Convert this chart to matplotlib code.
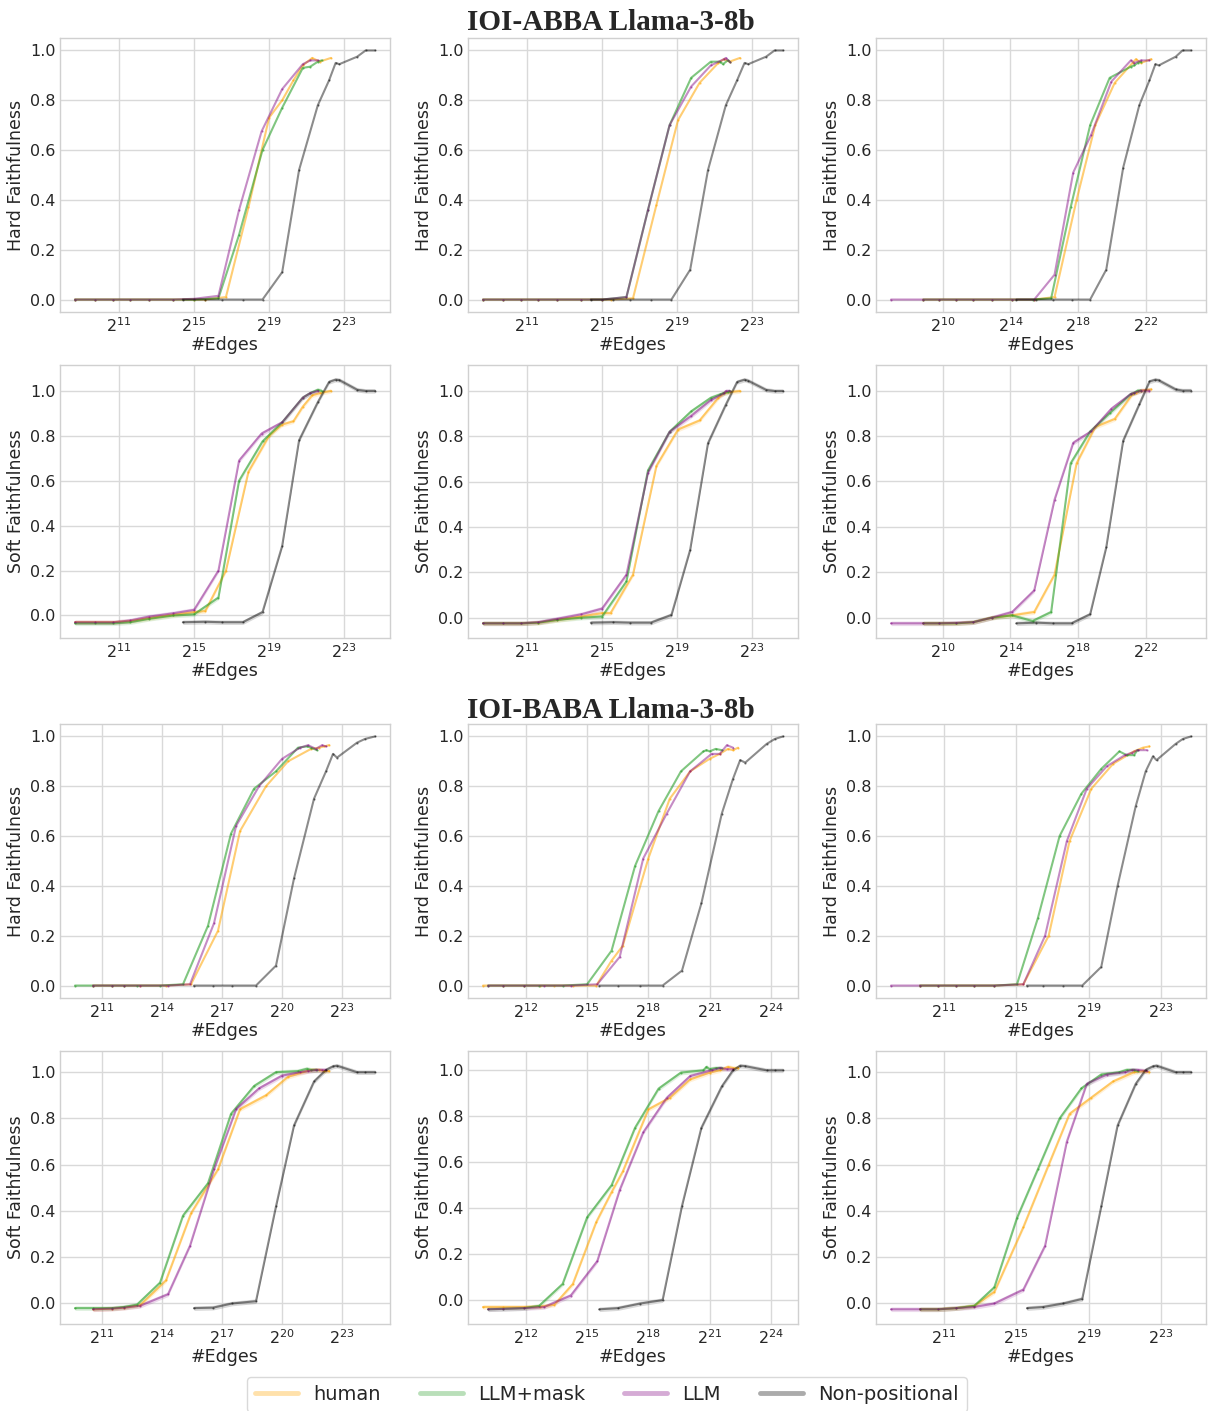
import numpy as np
import matplotlib
matplotlib.use('Agg')
import matplotlib.pyplot as plt
from matplotlib.lines import Line2D

# x values are log2(#edges)

# ---- IOI-ABBA, column 1
abba1_human_x = [8.65, 9.7, 10.7, 11.6, 12.6, 13.9, 15.0, 15.6, 16.7, 17.9, 19.0, 19.7, 20.3, 20.8, 21.3, 21.7, 22.3]
abba1_human_hard = [0, 0, 0, 0, 0, 0, 0, 0.0, 0.01, 0.37, 0.73, 0.80, 0.88, 0.94, 0.97, 0.955, 0.97]
abba1_human_soft = [-0.03, -0.03, -0.03, -0.025, -0.012, 0.003, 0.015, 0.02, 0.2, 0.64, 0.8, 0.85, 0.865, 0.93, 0.98, 0.99, 1.0]
abba1_mask_x = [8.65, 9.7, 10.7, 11.6, 12.6, 13.9, 15.0, 16.3, 17.4, 18.65, 19.7, 20.8, 21.2, 21.6, 21.8]
abba1_mask_hard = [0, 0, 0, 0, 0, 0, 0, 0.005, 0.26, 0.6, 0.77, 0.93, 0.935, 0.955, 0.96]
abba1_mask_soft = [-0.035, -0.035, -0.035, -0.03, -0.015, 0.0, 0.005, 0.08, 0.6, 0.775, 0.86, 0.97, 0.99, 1.005, 1.0]
abba1_llm_x = [8.65, 9.7, 10.7, 11.6, 12.6, 13.9, 15.0, 16.3, 17.4, 18.6, 19.7, 20.8, 21.2, 21.6]
abba1_llm_hard = [0, 0, 0, 0, 0, 0, 0.003, 0.015, 0.36, 0.675, 0.845, 0.945, 0.96, 0.96]
abba1_llm_soft = [-0.03, -0.03, -0.03, -0.022, -0.005, 0.01, 0.025, 0.2, 0.69, 0.81, 0.86, 0.97, 0.99, 1.0]
abba1_np_x = [14.4, 15.6, 16.5, 17.6, 18.65, 19.7, 20.6, 21.6, 22.2, 22.55, 22.75, 23.7, 24.15, 24.65]
abba1_np_hard = [0, 0, 0, 0, 0, 0.11, 0.52, 0.78, 0.88, 0.95, 0.945, 0.975, 1.0, 1.0]
abba1_np_soft = [-0.03, -0.028, -0.03, -0.03, 0.015, 0.31, 0.78, 0.95, 1.04, 1.05, 1.048, 1.005, 1.0, 1.0]

# ---- IOI-ABBA, column 2
abba2_human_x = [8.65, 9.7, 10.7, 11.6, 12.6, 13.9, 15.0, 15.45, 16.65, 17.9, 19.05, 20.2, 21.2, 21.5, 21.8, 22.35]
abba2_human_hard = [0, 0, 0, 0, 0, 0, 0, 0, 0.005, 0.38, 0.72, 0.87, 0.95, 0.965, 0.955, 0.97]
abba2_human_soft = [-0.025, -0.025, -0.025, -0.022, -0.01, 0.005, 0.02, 0.02, 0.19, 0.67, 0.83, 0.87, 0.97, 0.99, 0.995, 1.0]
abba2_mask_x = [8.65, 9.7, 10.7, 11.6, 12.6, 13.9, 15.0, 16.3, 17.45, 18.6, 19.75, 20.8, 21.3, 21.45, 21.7, 21.8]
abba2_mask_hard = [0, 0, 0, 0, 0, 0, 0, 0.01, 0.36, 0.70, 0.89, 0.955, 0.955, 0.945, 0.96, 0.955]
abba2_mask_soft = [-0.025, -0.025, -0.025, -0.022, -0.01, 0.0, 0.005, 0.16, 0.65, 0.82, 0.91, 0.97, 0.985, 0.99, 0.995, 1.0]
abba2_llm_x = [8.65, 9.7, 10.7, 11.6, 12.6, 13.9, 15.0, 16.3, 17.45, 18.6, 19.75, 20.8, 21.5, 21.6, 21.8]
abba2_llm_hard = [0, 0, 0, 0, 0, 0, 0, 0.01, 0.36, 0.70, 0.855, 0.94, 0.965, 0.97, 0.955]
abba2_llm_soft = [-0.025, -0.025, -0.025, -0.02, -0.005, 0.015, 0.04, 0.19, 0.64, 0.82, 0.89, 0.96, 0.99, 1.0, 1.0]
abba2_np_x = [14.4, 15.6, 16.5, 17.6, 18.7, 19.7, 20.65, 21.6, 22.2, 22.6, 22.8, 23.75, 24.2, 24.65]
abba2_np_hard = [0, 0, 0, 0, 0, 0.12, 0.52, 0.78, 0.88, 0.95, 0.945, 0.975, 1.0, 1.0]
abba2_np_soft = [-0.022, -0.02, -0.022, -0.022, 0.012, 0.30, 0.77, 0.94, 1.04, 1.05, 1.045, 1.005, 1.0, 1.0]

# ---- IOI-ABBA, column 3
abba3_human_x = [8.85, 9.8, 10.8, 11.8, 12.9, 14.1, 15.4, 16.6, 17.9, 19.0, 20.15, 21.2, 21.4, 21.7, 22.3]
abba3_human_hard = [0, 0, 0, 0, 0, 0, 0, 0.01, 0.4, 0.70, 0.87, 0.95, 0.965, 0.95, 0.965]
abba3_human_soft = [-0.025, -0.025, -0.025, -0.02, 0.0, 0.01, 0.025, 0.19, 0.68, 0.84, 0.875, 0.985, 0.99, 1.0, 1.005]
abba3_mask_x = [8.85, 9.8, 10.8, 11.8, 12.9, 14.1, 15.3, 16.4, 17.55, 18.7, 19.85, 21.1, 21.3, 21.5, 21.7]
abba3_mask_hard = [0, 0, 0, 0, 0, 0, 0, 0.005, 0.37, 0.70, 0.89, 0.935, 0.94, 0.95, 0.955]
abba3_mask_soft = [-0.025, -0.025, -0.025, -0.02, 0.0, 0.01, -0.015, 0.025, 0.68, 0.82, 0.90, 0.985, 0.99, 1.0, 1.0]
abba3_llm_x = [6.95, 8.85, 9.8, 10.8, 11.8, 12.9, 14.1, 15.4, 16.6, 17.7, 18.75, 19.95, 21.1, 21.3, 21.7, 22.2]
abba3_llm_hard = [0, 0, 0, 0, 0, 0, 0, 0, 0.1, 0.51, 0.66, 0.875, 0.96, 0.95, 0.96, 0.96]
abba3_llm_soft = [-0.025, -0.025, -0.025, -0.023, -0.02, 0.0, 0.025, 0.12, 0.52, 0.77, 0.82, 0.92, 0.985, 0.99, 1.0, 1.0]
abba3_np_x = [14.35, 15.5, 16.5, 17.6, 18.7, 19.65, 20.65, 21.6, 22.2, 22.55, 22.75, 23.75, 24.15, 24.65]
abba3_np_hard = [0, 0, 0, 0, 0, 0.12, 0.53, 0.78, 0.88, 0.945, 0.94, 0.975, 1.0, 1.0]
abba3_np_soft = [-0.025, -0.022, -0.025, -0.025, 0.015, 0.31, 0.78, 0.94, 1.04, 1.048, 1.045, 1.005, 1.0, 1.0]

# ---- IOI-BABA, column 1
baba1_human_x = [10.55, 11.5, 12.1, 12.9, 14.2, 15.45, 16.8, 17.9, 19.2, 20.3, 21.45, 21.85, 22.1, 22.35]
baba1_human_hard = [0, 0, 0, 0, 0, 0.005, 0.22, 0.62, 0.80, 0.90, 0.95, 0.955, 0.96, 0.965]
baba1_human_soft = [-0.025, -0.022, -0.018, -0.008, 0.10, 0.39, 0.58, 0.84, 0.90, 0.98, 1.01, 1.01, 1.005, 1.005]
baba1_mask_x = [9.65, 10.55, 11.5, 12.1, 12.75, 13.9, 15.05, 16.3, 17.45, 18.6, 19.7, 20.8, 21.25, 21.45, 21.75]
baba1_mask_hard = [0, 0, 0, 0, 0, 0, 0.005, 0.24, 0.61, 0.79, 0.86, 0.955, 0.96, 0.955, 0.945]
baba1_mask_soft = [-0.02, -0.02, -0.02, -0.015, -0.005, 0.09, 0.38, 0.52, 0.82, 0.94, 1.0, 1.005, 1.015, 1.01, 1.01]
baba1_llm_x = [10.55, 11.5, 12.1, 12.9, 14.3, 15.4, 16.6, 17.7, 18.85, 20.0, 20.9, 21.3, 21.7, 22.0, 22.2]
baba1_llm_hard = [0, 0, 0, 0, 0, 0.005, 0.25, 0.64, 0.80, 0.91, 0.955, 0.965, 0.95, 0.965, 0.96]
baba1_llm_soft = [-0.025, -0.022, -0.018, -0.01, 0.04, 0.25, 0.58, 0.84, 0.93, 0.985, 1.0, 1.005, 1.01, 1.01, 1.01]
baba1_np_x = [15.6, 16.55, 17.5, 18.7, 19.7, 20.6, 21.6, 22.2, 22.55, 22.75, 23.75, 24.15, 24.65]
baba1_np_hard = [0, 0, 0, 0, 0.08, 0.43, 0.75, 0.86, 0.93, 0.915, 0.975, 0.99, 1.0]
baba1_np_soft = [-0.02, -0.018, 0.0, 0.01, 0.42, 0.77, 0.96, 1.01, 1.025, 1.028, 1.0, 1.0, 1.0]

# ---- IOI-BABA, column 2
baba2_human_x = [9.9, 10.9, 11.9, 12.7, 13.4, 14.3, 15.45, 16.2, 16.75, 18.0, 19.05, 20.05, 21.0, 21.5, 21.9, 22.15, 22.4]
baba2_human_hard = [0, 0, 0, 0, 0, 0, 0, 0.1, 0.16, 0.51, 0.75, 0.86, 0.91, 0.93, 0.95, 0.945, 0.955]
baba2_human_soft = [-0.03, -0.03, -0.03, -0.028, -0.02, 0.07, 0.34, 0.47, 0.56, 0.83, 0.88, 0.96, 0.99, 1.0, 1.015, 1.01, 1.01]
baba2_mask_x = [10.15, 10.9, 11.9, 12.65, 13.8, 15.0, 16.2, 17.35, 18.5, 19.6, 20.7, 20.85, 21.0, 21.3, 21.6]
baba2_mask_hard = [0, 0, 0, 0, 0, 0.005, 0.14, 0.48, 0.70, 0.86, 0.94, 0.945, 0.94, 0.95, 0.945]
baba2_mask_soft = [-0.04, -0.038, -0.035, -0.025, 0.07, 0.36, 0.5, 0.75, 0.92, 0.99, 1.0, 1.015, 1.005, 1.01, 1.01]
baba2_llm_x = [10.15, 10.9, 11.9, 12.9, 14.2, 15.5, 16.6, 17.75, 18.9, 20.05, 21.1, 21.5, 21.85, 22.15]
baba2_llm_hard = [0, 0, 0, 0, 0, 0.005, 0.115, 0.51, 0.69, 0.86, 0.93, 0.93, 0.965, 0.955]
baba2_llm_soft = [-0.04, -0.038, -0.035, -0.03, 0.02, 0.17, 0.48, 0.73, 0.88, 0.975, 1.0, 1.01, 1.005, 1.005]
baba2_np_x = [15.6, 16.5, 17.6, 18.7, 19.65, 20.6, 21.6, 22.15, 22.5, 22.75, 23.8, 24.2, 24.6]
baba2_np_hard = [0, 0, 0, 0, 0.06, 0.33, 0.69, 0.83, 0.905, 0.895, 0.97, 0.99, 1.0]
baba2_np_soft = [-0.04, -0.035, -0.015, 0.0, 0.41, 0.75, 0.93, 1.0, 1.02, 1.018, 1.0, 1.0, 1.0]

# ---- IOI-BABA, column 3
baba3_human_x = [9.7, 10.7, 11.7, 12.7, 13.8, 15.4, 16.8, 17.95, 19.15, 20.35, 21.5, 22.0, 22.35]
baba3_human_hard = [0, 0, 0, 0, 0, 0.005, 0.2, 0.58, 0.79, 0.89, 0.94, 0.955, 0.96]
baba3_human_soft = [-0.025, -0.025, -0.02, -0.01, 0.05, 0.33, 0.6, 0.82, 0.89, 0.96, 1.0, 1.005, 1.0]
baba3_mask_x = [9.7, 10.7, 11.7, 12.7, 13.8, 15.05, 16.2, 17.4, 18.6, 19.7, 20.7, 21.1, 21.5, 21.7]
baba3_mask_hard = [0, 0, 0, 0, 0, 0.005, 0.27, 0.6, 0.77, 0.87, 0.94, 0.925, 0.925, 0.945]
baba3_mask_soft = [-0.025, -0.025, -0.02, -0.01, 0.07, 0.37, 0.58, 0.8, 0.93, 0.99, 1.0, 1.01, 1.01, 1.005]
baba3_llm_x = [8.1, 9.7, 10.7, 11.7, 12.7, 13.8, 15.4, 16.6, 17.8, 18.9, 20.0, 21.0, 21.4, 21.7, 22.2]
baba3_llm_hard = [0, 0, 0, 0, 0, 0, 0.005, 0.2, 0.58, 0.79, 0.88, 0.925, 0.935, 0.945, 0.945]
baba3_llm_soft = [-0.025, -0.025, -0.025, -0.02, -0.015, 0.0, 0.06, 0.25, 0.7, 0.95, 0.99, 1.0, 1.01, 1.01, 1.005]
baba3_np_x = [15.6, 16.5, 17.6, 18.65, 19.7, 20.6, 21.6, 22.15, 22.55, 22.75, 23.8, 24.2, 24.65]
baba3_np_hard = [0, 0, 0, 0, 0.075, 0.40, 0.72, 0.86, 0.92, 0.905, 0.97, 0.99, 1.0]
baba3_np_soft = [-0.02, -0.015, 0.0, 0.02, 0.42, 0.77, 0.95, 1.01, 1.025, 1.028, 1.0, 1.0, 1.0]

# tick exponents per column
abba_ticks = [[11, 15, 19, 23], [11, 15, 19, 23], [10, 14, 18, 22]]
baba_ticks = [[11, 14, 17, 20, 23], [12, 15, 18, 21, 24], [11, 15, 19, 23]]

methods = ['human', 'LLM+mask', 'LLM', 'Non-positional']
titles = ['IOI-ABBA Llama-3-8b', 'IOI-BABA Llama-3-8b']

colors = ['#FFA500', '#2CA02C', '#800080', '#000000']
alphas = [0.55, 0.6, 0.45, 0.45]
band = 0.01

plt.style.use('seaborn-v0_8-whitegrid')
plt.rcParams['font.family'] = 'DejaVu Sans'

fig = plt.figure(figsize=(12.08, 14.11), dpi=100)
W, H = 1208.0, 1411.0


def add_ax(left, top, bottom):
    return fig.add_axes([left / W, 1 - bottom / H, 330 / W, (bottom - top) / H])


def draw(ax, xs, ys, ticks, ylabel, soft):
    for x, y, c, a in zip(xs, ys, colors, alphas):
        xv = np.power(2.0, np.array(x))
        yv = np.array(y)
        if soft:
            ax.fill_between(xv, yv - band, yv + band, color=c, alpha=0.15, lw=0)
        ax.plot(xv, yv, color=c, alpha=a, lw=1.5, marker='.', ms=1.2)
    ax.set_xscale('log', base=2)
    ax.set_xticks(np.power(2.0, np.array(ticks)))
    ax.minorticks_off()
    ax.set_yticks([0.0, 0.2, 0.4, 0.6, 0.8, 1.0])
    ax.tick_params(labelsize=11.5, colors='.15', pad=3)
    ax.set_xlabel('#Edges', fontsize=12.5, color='.15', labelpad=1)
    ax.set_ylabel(ylabel, fontsize=12.5, color='.15')
    for s in ax.spines.values():
        s.set_color('#d0d0d0')
    ax.grid(color='#d9d9d9', lw=1)


lefts = [60, 468, 876]
rows = [(38, 312), (365, 638), (724, 998), (1051, 1324)]

abba = [
    ([abba1_human_x, abba1_mask_x, abba1_llm_x, abba1_np_x],
     [abba1_human_hard, abba1_mask_hard, abba1_llm_hard, abba1_np_hard],
     [abba1_human_soft, abba1_mask_soft, abba1_llm_soft, abba1_np_soft]),
    ([abba2_human_x, abba2_mask_x, abba2_llm_x, abba2_np_x],
     [abba2_human_hard, abba2_mask_hard, abba2_llm_hard, abba2_np_hard],
     [abba2_human_soft, abba2_mask_soft, abba2_llm_soft, abba2_np_soft]),
    ([abba3_human_x, abba3_mask_x, abba3_llm_x, abba3_np_x],
     [abba3_human_hard, abba3_mask_hard, abba3_llm_hard, abba3_np_hard],
     [abba3_human_soft, abba3_mask_soft, abba3_llm_soft, abba3_np_soft]),
]
baba = [
    ([baba1_human_x, baba1_mask_x, baba1_llm_x, baba1_np_x],
     [baba1_human_hard, baba1_mask_hard, baba1_llm_hard, baba1_np_hard],
     [baba1_human_soft, baba1_mask_soft, baba1_llm_soft, baba1_np_soft]),
    ([baba2_human_x, baba2_mask_x, baba2_llm_x, baba2_np_x],
     [baba2_human_hard, baba2_mask_hard, baba2_llm_hard, baba2_np_hard],
     [baba2_human_soft, baba2_mask_soft, baba2_llm_soft, baba2_np_soft]),
    ([baba3_human_x, baba3_mask_x, baba3_llm_x, baba3_np_x],
     [baba3_human_hard, baba3_mask_hard, baba3_llm_hard, baba3_np_hard],
     [baba3_human_soft, baba3_mask_soft, baba3_llm_soft, baba3_np_soft]),
]

for t, (task, ticks) in enumerate([(abba, abba_ticks), (baba, baba_ticks)]):
    for c in range(3):
        xs, hard, soft = task[c]
        top, bot = rows[2 * t]
        ax = add_ax(lefts[c], top, bot)
        draw(ax, xs, hard, ticks[c], 'Hard Faithfulness', False)
        top, bot = rows[2 * t + 1]
        ax = add_ax(lefts[c], top, bot)
        draw(ax, xs, soft, ticks[c], 'Soft Faithfulness', True)

fig.text(611 / W, 1 - 22 / H, titles[0], ha='center', va='center',
         fontsize=21, fontweight='bold', family='Liberation Serif')
fig.text(611 / W, 1 - 710 / H, titles[1], ha='center', va='center',
         fontsize=21, fontweight='bold', family='Liberation Serif')

handles = [Line2D([0], [0], color=c, alpha=0.33, lw=3.5) for c in colors]
fig.legend(handles, methods, loc='upper center', bbox_to_anchor=(607 / W, 1 - 1377 / H),
           ncol=4, fontsize=14, frameon=True, handlelength=2.2, handletextpad=0.8,
           columnspacing=2.0, borderaxespad=0, edgecolor='#d0d0d0')

fig.savefig('out.png', dpi=100)
